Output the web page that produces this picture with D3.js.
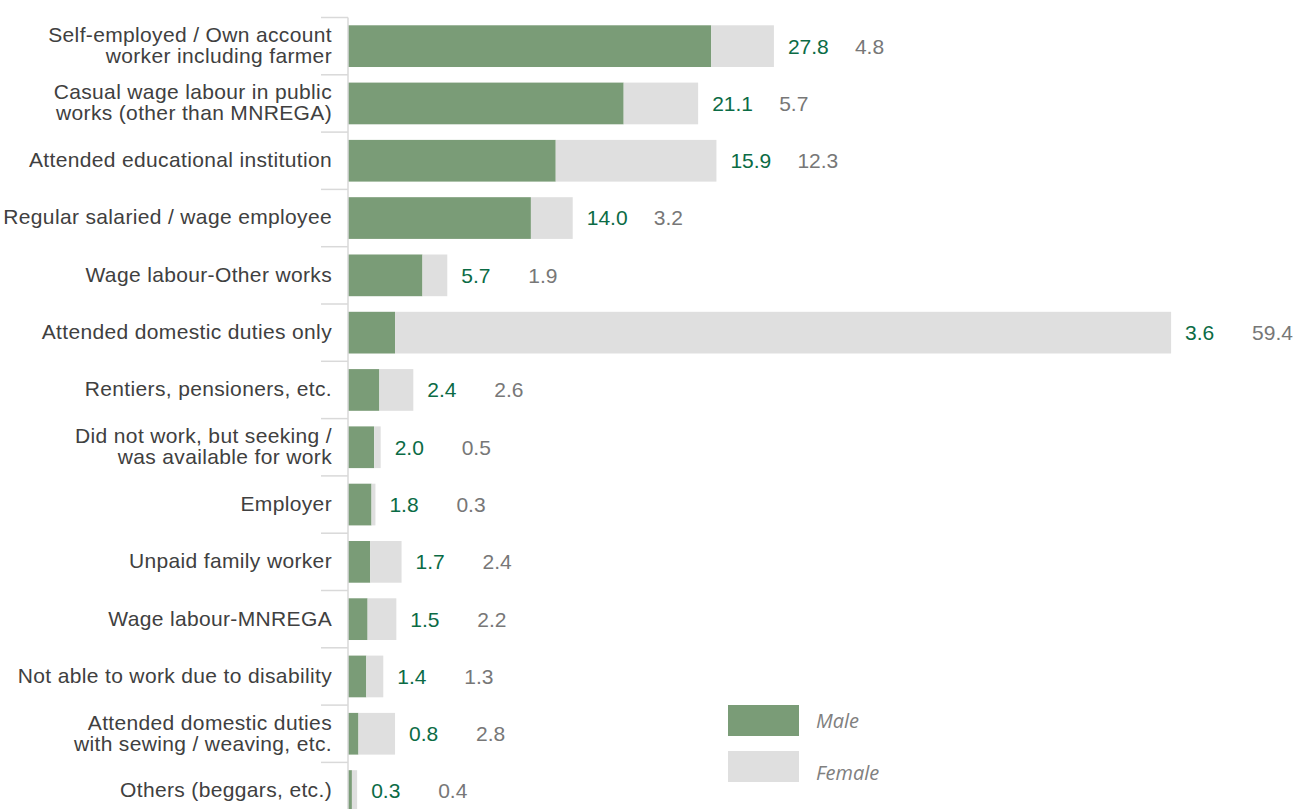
<!DOCTYPE html>
<html>
<head>
<meta charset="utf-8">
<script src="https://cdn.jsdelivr.net/npm/d3@7"></script>
<style>
  html, body { margin: 0; padding: 0; background: #fff; }
  svg { display: block; }
</style>
</head>
<body>
<svg id="chart" width="1296" height="809"></svg>
<script>
// Main activity status, male vs female (%)
const categories = [
  "Self-employed / Own account\nworker including farmer",
  "Casual wage labour in public\nworks (other than MNREGA)",
  "Attended educational institution",
  "Regular salaried / wage employee",
  "Wage labour-Other works",
  "Attended domestic duties only",
  "Rentiers, pensioners, etc.",
  "Did not work, but seeking /\nwas available for work",
  "Employer",
  "Unpaid family worker",
  "Wage labour-MNREGA",
  "Not able to work due to disability",
  "Attended domestic duties\nwith sewing / weaving, etc.",
  "Others (beggars, etc.)"
];
const male   = [27.8, 21.1, 15.9, 14.0, 5.7, 3.6, 2.4, 2.0, 1.8, 1.7, 1.5, 1.4, 0.8, 0.3];
const female = [4.8, 5.7, 12.3, 3.2, 1.9, 59.4, 2.6, 0.5, 0.3, 2.4, 2.2, 1.3, 2.8, 0.4];
const seriesNames = ["Male", "Female"];

const COLORS = { Male: "#7a9c77", Female: "#dfdfdf" };
const LABEL_COLORS = { Male: "#0b6b45", Female: "#777777" };

const svg = d3.select("#chart");
const axisX = 348;
const rowStep = 57.3, plotTop = 17.5;

const rows = categories.map((c, i) => ({ cat: c, Male: male[i], Female: female[i] }));

const y = d3.scaleBand()
  .domain(categories)
  .range([plotTop, plotTop + rowStep * categories.length])
  .paddingInner(0.272)
  .paddingOuter(0.136);

const maxTotal = d3.max(rows, d => d.Male + d.Female);
const x = d3.scaleLinear().domain([0, maxTotal]).range([axisX, axisX + maxTotal * 13.065]);

const stacked = d3.stack().keys(seriesNames)(rows);

// bars
svg.append("g").selectAll("g")
  .data(stacked)
  .join("g")
  .attr("fill", s => COLORS[s.key])
  .selectAll("rect")
  .data(s => s)
  .join("rect")
  .attr("x", d => x(d[0]))
  .attr("y", d => y(d.data.cat))
  .attr("width", d => x(d[1]) - x(d[0]))
  .attr("height", y.bandwidth());

// category axis: vertical line with ticks at row boundaries
const axisG = svg.append("g");
axisG.append("line")
  .attr("x1", axisX).attr("x2", axisX)
  .attr("y1", plotTop).attr("y2", 809)
  .attr("stroke", "#d9d9d9").attr("stroke-width", 1.5);
axisG.selectAll("line.tick")
  .data(categories)
  .join("line")
  .attr("class", "tick")
  .attr("x1", axisX - 27).attr("x2", axisX)
  .attr("y1", d => y(d) - y.step() * y.paddingOuter())
  .attr("y2", d => y(d) - y.step() * y.paddingOuter())
  .attr("stroke", "#d9d9d9").attr("stroke-width", 1.5);

// category labels
const lineH = 21;
axisG.selectAll("text.cat")
  .data(categories)
  .join("text")
  .attr("class", "cat")
  .attr("text-anchor", "end")
  .attr("font-family", "'Liberation Sans', Arial, sans-serif")
  .attr("font-size", 21)
  .attr("letter-spacing", "0.35px")
  .attr("fill", "#404040")
  .each(function (d) {
    const lines = d.split("\n");
    const cy = y(d) + y.bandwidth() / 2 - 1;
    const t = d3.select(this);
    lines.forEach((ln, k) => {
      t.append("tspan")
        .attr("x", axisX - 16)
        .attr("y", cy + (k - (lines.length - 1) / 2) * lineH)
        .attr("dy", "0.35em")
        .text(ln);
    });
  });

// value labels
const vals = svg.append("g")
  .attr("font-family", "'Liberation Sans', Arial, sans-serif")
  .attr("font-size", 21);
vals.selectAll("text.m")
  .data(rows)
  .join("text")
  .attr("class", "m")
  .attr("x", d => x(d.Male + d.Female) + 14)
  .attr("y", d => y(d.cat) + y.bandwidth() / 2)
  .attr("dy", "0.35em")
  .attr("fill", LABEL_COLORS.Male)
  .text(d => d.Male.toFixed(1));
vals.selectAll("text.f")
  .data(rows)
  .join("text")
  .attr("class", "f")
  .attr("x", d => x(d.Male + d.Female) + 14 + 67)
  .attr("y", d => y(d.cat) + y.bandwidth() / 2)
  .attr("dy", "0.35em")
  .attr("fill", LABEL_COLORS.Female)
  .text(d => d.Female.toFixed(1));

// legend
const legend = svg.append("g").attr("transform", "translate(728,705)");
const item = legend.selectAll("g")
  .data(seriesNames)
  .join("g")
  .attr("transform", (d, i) => `translate(0,${i * 46})`);
item.append("rect")
  .attr("width", 71).attr("height", 31)
  .attr("fill", d => COLORS[d]);
item.append("text")
  .attr("x", 88)
  .attr("y", (d, i) => 23 + i * 6)
  .attr("font-family", "'Open Sans', sans-serif")
  .attr("font-style", "italic")
  .attr("font-size", 20)
  .attr("fill", "#808080")
  .text(d => d);
</script>
</body>
</html>
